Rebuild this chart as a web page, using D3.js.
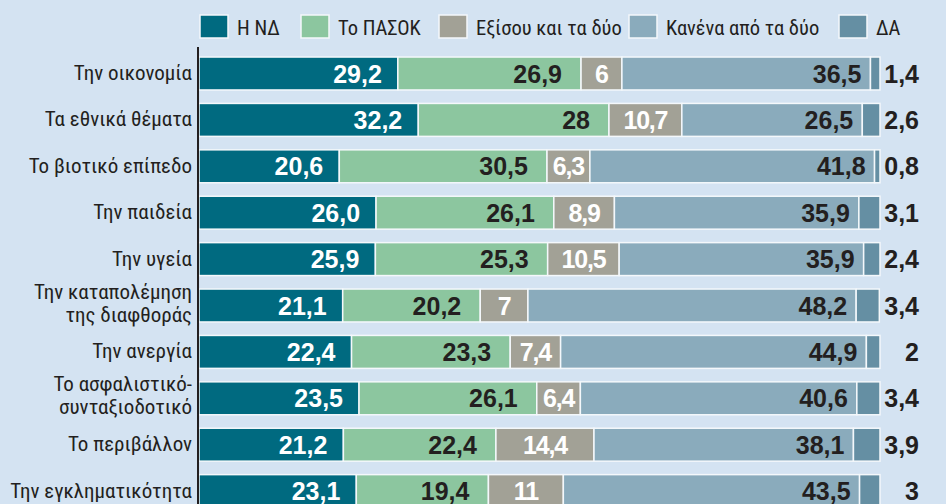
<!DOCTYPE html>
<html>
<head>
<meta charset="utf-8">
<script src="https://cdn.jsdelivr.net/npm/d3@7"></script>
<style>
  body { margin: 0; background: #d4e3f2; }
  svg { display: block; }
</style>
</head>
<body>
<svg id="chart"></svg>
<script>
const categories = [
    "Την οικονομία",
    "Τα εθνικά θέματα",
    "Το βιοτικό επίπεδο",
    "Την παιδεία",
    "Την υγεία",
    "Την καταπολέμηση\nτης διαφθοράς",
    "Την ανεργία",
    "Το ασφαλιστικό-\nσυνταξιοδοτικό",
    "Το περιβάλλον",
    "Την εγκληματικότητα"
];
const seriesNames = ["Η ΝΔ", "Το ΠΑΣΟΚ", "Εξίσου και τα δύο", "Κανένα από τα δύο", "ΔΑ"];

const nd      = [29.2, 32.2, 20.6, 26.0, 25.9, 21.1, 22.4, 23.5, 21.2, 23.1];
const pasok   = [26.9, 28, 30.5, 26.1, 25.3, 20.2, 23.3, 26.1, 22.4, 19.4];
const both    = [6, 10.7, 6.3, 8.9, 10.5, 7, 7.4, 6.4, 14.4, 11];
const neither = [36.5, 26.5, 41.8, 35.9, 35.9, 48.2, 44.9, 40.6, 38.1, 43.5];
const da      = [1.4, 2.6, 0.8, 3.1, 2.4, 3.4, 2, 3.4, 3.9, 3];

const W = 946, H = 504;
const colors = ["#006a80", "#8cc69f", "#a2a196", "#8aabbc", "#658fa3"];
const labelFill = ["#fff", "#231f20", "#fff", "#231f20", "#231f20"];
const labelPad = [16, 19, 10, 9, 0];
const legendX = [200, 301, 439, 629, 839];

const svg = d3.select("#chart").attr("width", W).attr("height", H);

const table = categories.map((c, i) => ({
    cat: c, s0: nd[i], s1: pasok[i], s2: both[i], s3: neither[i], s4: da[i]
}));
const keys = ["s0", "s1", "s2", "s3", "s4"];
const stacked = d3.stack().keys(keys)(table);

const x = d3.scaleLinear().domain([0, 100]).range([199, 880]);
const y = d3.scaleBand().domain(categories).range([50.3, 514.3])
    .paddingInner(0.29).paddingOuter(0.145);

const fmt = (v, k) => (k === 0 ? d3.format(".1f")(v) : String(v)).replace(".", ",");

const labelFont = "'Liberation Sans Narrow', 'Arial Narrow', 'Roboto Condensed', Roboto, sans-serif";
const valueFont = "'Liberation Sans', Arial, sans-serif";

// bars
stacked.forEach((layer, k) => {
    const g = svg.append("g");
    g.selectAll("rect")
        .data(layer)
        .enter().append("rect")
        .attr("x", d => x(d[0]))
        .attr("y", d => y(d.data.cat))
        .attr("width", d => x(d[1]) - x(d[0]))
        .attr("height", y.bandwidth())
        .attr("fill", colors[k])
        .attr("stroke", "#f4f8fb")
        .attr("stroke-width", 1.5);

    g.selectAll("text")
        .data(layer)
        .enter().append("text")
        .attr("x", d => {
            if (k === 4) return 919;
            if (k === 2) return (x(d[0]) + x(d[1])) / 2;
            return x(d[1]) - labelPad[k];
        })
        .attr("y", d => y(d.data.cat) + y.bandwidth() / 2)
        .attr("dy", "0.36em")
        .attr("text-anchor", k === 2 ? "middle" : "end")
        .attr("font-family", valueFont)
        .attr("font-weight", "bold")
        .attr("font-size", 25)
        .attr("letter-spacing", k === 2 ? -1.2 : 0)
        .attr("fill", labelFill[k])
        .text(d => fmt(d.data[keys[k]], k));
});

// category labels
const catText = svg.append("g").selectAll("text")
    .data(categories)
    .enter().append("text")
    .attr("text-anchor", "end")
    .attr("font-family", labelFont)
    .attr("font-size", 21)
    .attr("fill", "#231f20")
    .attr("transform", d => `translate(192, ${y(d) + y.bandwidth() / 2})`);

catText.each(function(d) {
    const lines = d.split("\n");
    const t = d3.select(this);
    lines.forEach((line, i) => {
        t.append("tspan")
            .attr("x", 0)
            .attr("y", lines.length === 1 ? 6.5 : (i === 0 ? -7 : 16))
            .text(line);
    });
});

// axis line
svg.append("line")
    .attr("x1", 198).attr("x2", 198)
    .attr("y1", 47).attr("y2", H)
    .attr("stroke", "#231f20")
    .attr("stroke-width", 2);

// legend
const legend = svg.append("g").attr("transform", "translate(0, 15)");
seriesNames.forEach((name, k) => {
    legend.append("rect")
        .attr("x", legendX[k]).attr("y", 0)
        .attr("width", 28).attr("height", 23)
        .attr("fill", colors[k])
        .attr("stroke", "#f4f8fb")
        .attr("stroke-width", 1.5);
    legend.append("text")
        .attr("x", legendX[k] + 37).attr("y", 20)
        .attr("font-family", labelFont)
        .attr("font-size", 20.5)
        .attr("fill", "#231f20")
        .text(name);
});
</script>
</body>
</html>
